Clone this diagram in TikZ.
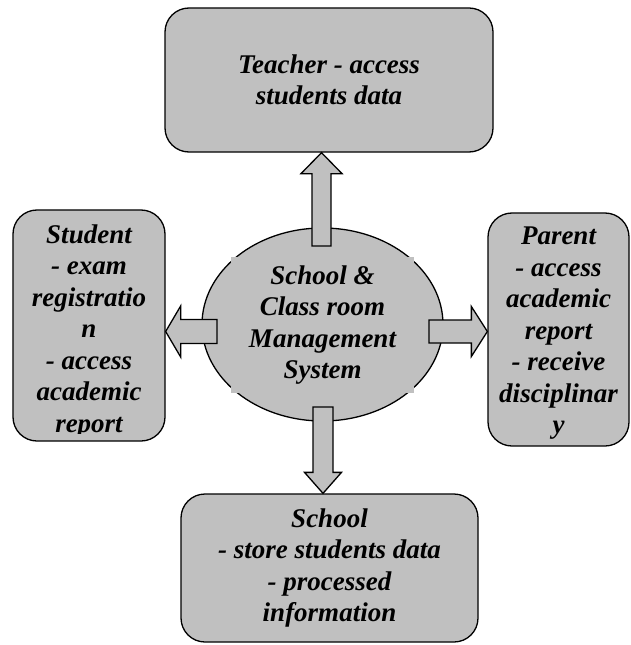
\documentclass[tikz,border=0pt]{standalone}
\usepackage{fontspec}
\setmainfont{Liberation Serif}
\usetikzlibrary{shapes.geometric,calc}
\definecolor{boxfill}{RGB}{192,192,192}
\tikzset{
  lbl/.style={font=\fontsize{27bp}{31.5bp}\selectfont\bfseries\itshape, align=center, inner sep=0pt},
  roundbox/.style={draw=black, fill=boxfill, line width=1.3bp, rounded corners=24bp, inner sep=0pt},
  barrow/.style={draw=black, fill=boxfill, line width=1.3bp, line join=miter},
}
\begin{document}
\begin{tikzpicture}[x=1bp, y=-1bp]
\useasboundingbox (0,0) rectangle (631,645);
% boxes
\node[roundbox, minimum width=328bp, minimum height=144bp, lbl] (teacher) at (329,80) {Teacher - access\\students data};
\node[roundbox, minimum width=152bp, minimum height=231bp] (student) at (89,325.5) {};
\node[roundbox, minimum width=141bp, minimum height=233bp] (parent) at (558.5,329.5) {};
\node[roundbox, minimum width=297bp, minimum height=148bp, lbl] (school) at (329.5,568) {School\\- store students data\\- processed\\information};
\begin{scope}
  \clip (13,210) rectangle (165,433);
  \node[lbl, anchor=north] (studenttext) at (89,224.5) {Student\\- exam\\registratio\\n\\- access\\academic\\report};
\end{scope}
\begin{scope}
  \clip (488,213) rectangle (629,438);
  \node[lbl, anchor=north] (parenttext) at (558.5,227) {Parent\\- access\\academic\\report\\- receive\\disciplinar\\y};
\end{scope}
% central ellipse
\node[ellipse, draw=black, fill=boxfill, line width=1.3bp, minimum width=241bp, minimum height=193bp, inner sep=0pt] (sys) at (322.5,324.5) {};
\node[fill=boxfill, minimum width=183bp, minimum height=136bp, lbl] (systext) at (322.5,325) {School \&\\Class room\\Management\\System};
% block arrows
\coordinate (ub) at (321.5,246);
\coordinate (ut) at (ub |- teacher.south);
\draw[barrow] ($(ub)+(-9.5,0)$) -- ($(ut)+(-9.5,21)$) -- ($(ut)+(-20.5,21)$) -- (ut) -- ($(ut)+(20.5,21)$) -- ($(ut)+(9.5,21)$) -- ($(ub)+(9.5,0)$) -- cycle;
\coordinate (lb) at (217,331.5);
\coordinate (lt) at (lb -| student.east);
\draw[barrow] ($(lb)+(0,-12)$) -- ($(lt)+(15,-12)$) -- ($(lt)+(15,-25.5)$) -- (lt) -- ($(lt)+(15,25.5)$) -- ($(lt)+(15,12)$) -- ($(lb)+(0,12)$) -- cycle;
\coordinate (rb) at (429,331.5);
\coordinate (rt) at (rb -| parent.west);
\draw[barrow] ($(rb)+(0,-11.5)$) -- ($(rt)+(-16,-11.5)$) -- ($(rt)+(-16,-25)$) -- (rt) -- ($(rt)+(-16,25)$) -- ($(rt)+(-16,11.5)$) -- ($(rb)+(0,11.5)$) -- cycle;
\coordinate (db) at (323,407);
\coordinate (dt) at (db |- school.north);
\draw[barrow] ($(db)+(-10,0)$) -- ($(dt)+(-10,-21)$) -- ($(dt)+(-18.5,-21)$) -- (dt) -- ($(dt)+(18.5,-21)$) -- ($(dt)+(10,-21)$) -- ($(db)+(10,0)$) -- cycle;
\end{tikzpicture}
\end{document}
